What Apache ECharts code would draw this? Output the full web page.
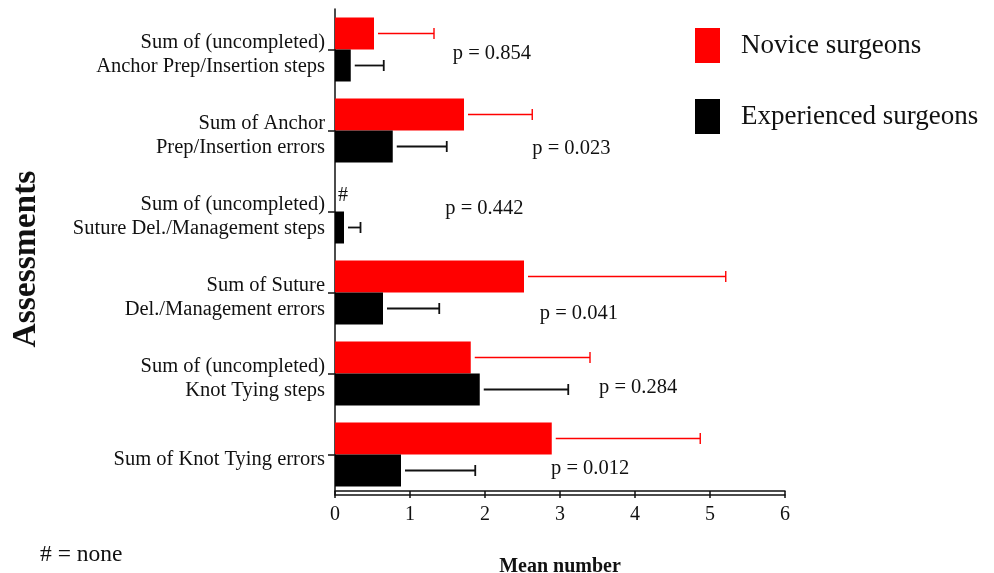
<!DOCTYPE html>
<html>
<head>
<meta charset="utf-8">
<script src="https://cdn.jsdelivr.net/npm/echarts@6/dist/echarts.min.js"></script>
<style>
html,body{margin:0;padding:0;background:#fff;}
#chart{width:994px;height:573px;}
</style>
</head>
<body>
<div id="chart"></div>
<script>
const categories = [
  'Sum of (uncompleted)\nAnchor Prep/Insertion steps',
  'Sum of Anchor\nPrep/Insertion errors',
  'Sum of (uncompleted)\nSuture Del./Management steps',
  'Sum of Suture\nDel./Management errors',
  'Sum of (uncompleted)\nKnot Tying steps',
  'Sum of Knot Tying errors'
];
const noviceMean = [0.52, 1.72, 0, 2.52, 1.81, 2.89];
const noviceSD = [0.80, 0.91, 0, 2.69, 1.59, 1.98];
const expMean = [0.21, 0.77, 0.12, 0.64, 1.93, 0.88];
const expSD = [0.44, 0.72, 0.22, 0.75, 1.18, 0.99];
const pTexts = ['p = 0.854', 'p = 0.023', 'p = 0.442', 'p = 0.041', 'p = 0.284', 'p = 0.012'];
const pX = [1.57, 2.63, 1.47, 2.73, 3.52, 2.88];
const pY = [0.05, 1.22, 1.96, 3.26, 4.17, 5.17];
const xTicks = [0, 1, 2, 3, 4, 5, 6];

const FONT = '"Liberation Serif", "Times New Roman", serif';
const TXT = '#111';
const BAR_W = 32;

function errRender(offset, color, width) {
  return function (params, api) {
    const mean = api.value(0), cat = api.value(1), sd = api.value(2);
    if (!(sd > 0)) return null;
    const p0 = api.coord([mean, cat]);
    const p1 = api.coord([mean + sd, cat]);
    const y = p0[1] + offset;
    const style = { stroke: color, lineWidth: width };
    return {
      type: 'group',
      children: [
        { type: 'line', shape: { x1: p0[0] + 4, y1: y, x2: p1[0], y2: y }, style: style },
        { type: 'line', shape: { x1: p1[0], y1: y - 5.5, x2: p1[0], y2: y + 5.5 }, style: style }
      ]
    };
  };
}

const chart = echarts.init(document.getElementById('chart'));
chart.setOption({
  animation: false,
  backgroundColor: '#fff',
  textStyle: { fontFamily: FONT, color: TXT },
  title: {
    text: '# = none', left: 35, top: 538,
    textStyle: { fontFamily: FONT, fontSize: 23.5, fontWeight: 'normal', color: TXT }
  },
  legend: {
    orient: 'vertical', left: 690, top: 23, itemGap: 36,
    itemWidth: 25, itemHeight: 35, icon: 'rect',
    data: ['Novice surgeons', 'Experienced surgeons'],
    textStyle: { fontFamily: FONT, fontSize: 27, color: TXT, padding: [0, 0, 0, 16] }
  },
  grid: [
    { left: 335, right: 209, top: 9, bottom: 78, containLabel: false, outerBoundsMode: 'none' },
    { left: 335, right: 209, top: 9, bottom: 82, containLabel: false, outerBoundsMode: 'none' }
  ],
  xAxis: [
    {
      type: 'value', gridIndex: 0, min: 0, max: 6, interval: 1, position: 'bottom',
      name: 'Mean number', nameLocation: 'middle', nameGap: 62,
      nameTextStyle: { fontFamily: FONT, fontSize: 20, fontWeight: 'bold', color: TXT },
      axisLine: { show: true, onZero: false, lineStyle: { color: '#111', width: 1.5 } },
      axisTick: { show: true, length: 3, lineStyle: { color: '#111', width: 1.5 } },
      axisLabel: { fontFamily: FONT, fontSize: 20, color: TXT, margin: 10,
        formatter: v => xTicks.indexOf(v) >= 0 ? String(v) : '' },
      splitLine: { show: false }
    },
    {
      type: 'value', gridIndex: 1, min: 0, max: 6, interval: 1, position: 'bottom',
      axisLine: { show: true, onZero: false, lineStyle: { color: '#111', width: 1.5 } },
      axisTick: { show: true, length: 4, lineStyle: { color: '#111', width: 1.5 } },
      axisLabel: { show: false },
      splitLine: { show: false }
    }
  ],
  yAxis: [
    {
      type: 'category', gridIndex: 0, data: categories, inverse: true,
      name: 'Assessments', nameLocation: 'middle', nameGap: 292, nameRotate: 90,
      nameTextStyle: { fontFamily: FONT, fontSize: 33.5, fontWeight: 'bold', color: TXT,
        padding: [0, 14, 0, 0] },
      axisLine: { show: true, onZero: false, lineStyle: { color: '#111', width: 1.5 } },
      axisTick: { show: true, alignWithLabel: true, length: 7, lineStyle: { color: '#111', width: 1.5 } },
      axisLabel: { interval: 0, fontFamily: FONT, fontSize: 20.5, color: TXT, lineHeight: 24, margin: 10,
        align: 'right',
        formatter: v => '{s| }\n' + v,
        rich: { s: { fontSize: 1, lineHeight: 11 } } },
      splitLine: { show: false }
    },
    {
      type: 'value', gridIndex: 0, min: -0.5, max: 5.5, inverse: true, show: false
    },
    {
      type: 'value', gridIndex: 1, min: 0, max: 1, show: false
    }
  ],
  series: [
    {
      name: 'Novice surgeons', type: 'bar', data: noviceMean,
      barWidth: BAR_W, barGap: '0%',
      itemStyle: { color: '#ff0000' },
      label: { show: true, position: 'right', distance: 3,
        fontFamily: FONT, fontSize: 20, color: TXT,
        formatter: p => p.value === 0 ? '#' : '' }
    },
    {
      name: 'Experienced surgeons', type: 'bar', data: expMean,
      barWidth: BAR_W, barGap: '0%',
      itemStyle: { color: '#000000' }
    },
    {
      type: 'custom', name: 'noviceErr', silent: true, z: 3,
      renderItem: errRender(-BAR_W / 2, '#ff0000', 1.4),
      data: noviceMean.map((m, i) => [m, i, noviceSD[i]])
    },
    {
      type: 'custom', name: 'expErr', silent: true, z: 3,
      renderItem: errRender(BAR_W / 2, '#111', 1.8),
      data: expMean.map((m, i) => [m, i, expSD[i]])
    },
    {
      type: 'scatter', yAxisIndex: 1, symbolSize: 0, silent: true,
      itemStyle: { opacity: 1 },
      data: pX.map((x, i) => [x, pY[i]]),
      label: { show: true, position: 'right', distance: 0, opacity: 1,
        fontFamily: FONT, fontSize: 20.5, color: TXT,
        formatter: p => pTexts[p.dataIndex] }
    }
  ]
});
</script>
</body>
</html>
